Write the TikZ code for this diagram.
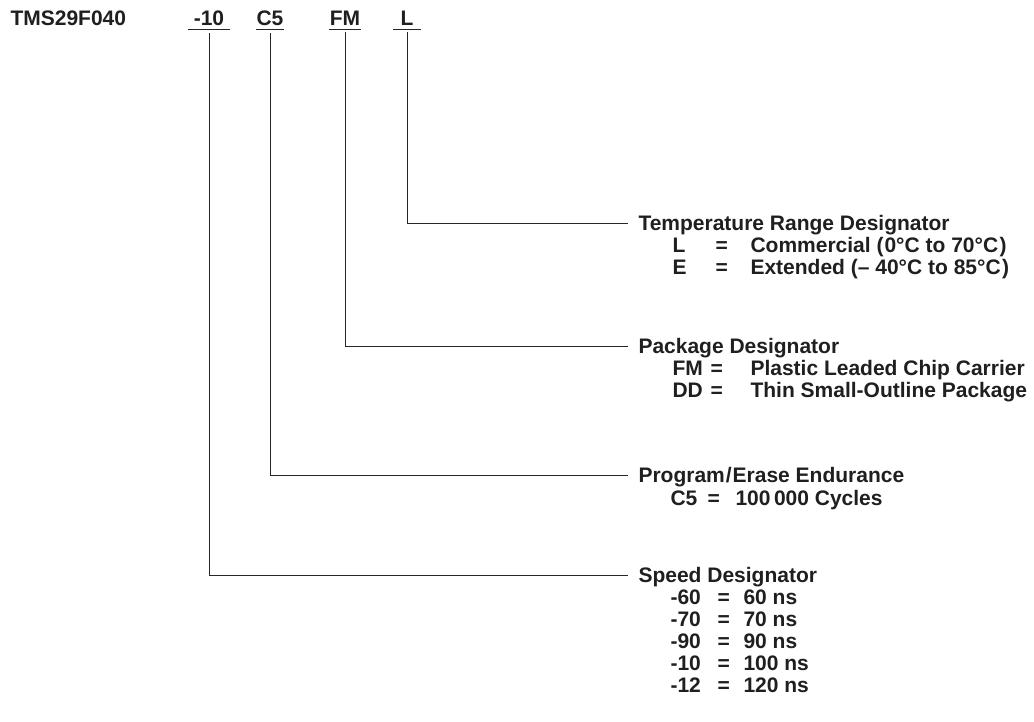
\documentclass[tikz,border=0pt]{standalone}
\usepackage{fontspec}
\setmainfont{Liberation Sans}
\usepackage{tikz}

\begin{document}
\begin{tikzpicture}[x=1pt,y=-1pt,
 line width=1pt, draw=black!85,
 every node/.style={font=\fontsize{21}{24}\selectfont\bfseries, text=black!88},
 code node/.style={inner xsep=0pt, inner ysep=3pt, minimum width=27pt, anchor=base},
 head node/.style={anchor=base west, inner sep=0pt},
 row node/.style={anchor=base west, inner sep=0pt}]
  \useasboundingbox (0,0) rectangle (1034,722);

  \node[row node] (part) at (10,26) {TMS29F040};
  \node[code node, minimum width=41pt] (spd) at (209,26) {-10};
  \node[code node] (end) at (270,26) {C5};
  \node[code node] (pkg) at (345,26) {FM};
  \node[code node] (tmp) at (407,26) {L};

  \foreach \n in {spd, end, pkg, tmp} {
   \draw (\n.south west) -- (\n.south east);}

  % temperature
  \node[head node] (tmpT) at (638,231) {Temperature Range Designator};
  \foreach \c/\d [count=\i] in {L/Commercial (\kern1pt0°C to 70°C\kern1.5pt), E/Extended (– 40°C to 85°C\kern1.5pt)} {
   \node[row node] (tmp-c\i) at (672,231+22*\i) {\c};
   \node[row node] (tmp-eq\i) at (715,231+22*\i) {=};
   \node[row node] (tmp-d\i) at (750,231+22*\i) {\d};}

  % package
  \node[head node] (pkgT) at (638,353) {Package Designator};
  \foreach \c/\d [count=\i] in {FM/Plastic Leaded Chip Carrier, DD/Thin Small-Outline Package} {
   \node[row node] (pkg-c\i) at (672,353+22*\i) {\c};
   \node[row node] (pkg-eq\i) at (710,353+22*\i) {=};
   \node[row node] (pkg-d\i) at (750,353+22*\i) {\d};}

  % endurance
  \node[head node] (endT) at (638,482) {Program\kern1pt/\kern1pt Erase Endurance};
  \node[row node] (end-c1) at (670,505) {C5};
  \node[row node] (end-eq1) at (707,505) {=};
  \node[row node] (end-d1) at (735,505) {100\,000 Cycles};

  % speed
  \node[head node] (spdT) at (638,582) {Speed Designator};
  \foreach \c/\d [count=\i] in {-60/60, -70/70, -90/90, -10/100, -12/120} {
   \node[row node] (spd-c\i) at (670,582+22*\i) {\c};
   \node[row node] (spd-eq\i) at (717,582+22*\i) {=};
   \node[row node] (spd-d\i) at (743,582+22*\i) {\d\ ns};}

  \foreach \s/\t in {tmp/tmpT, pkg/pkgT, end/endT, spd/spdT} {
   \draw ([yshift=-3pt]\s.south) |- ([xshift=-10pt,yshift=7pt]\t.base west);}
\end{tikzpicture}
\end{document}
